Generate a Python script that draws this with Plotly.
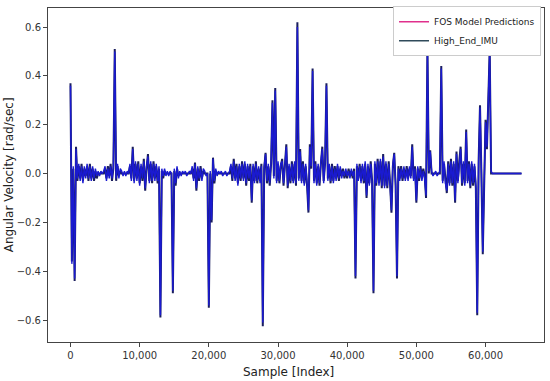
import numpy as np
import plotly.graph_objects as go

# Signal values, one value every 200 samples
STEP = 200
imu_values = [
    0.37, -0.36, 0.02, -0.44, 0.11, -0.03, 0.03, -0.02, 0.04, -0.03,
    0.02, -0.01, 0.03, -0.03, 0.04, -0.02, 0.02, -0.03, 0.01, -0.02,
    0, 0, 0, 0, 0, 0.02, -0.02, 0.03, -0.01, 0.04,
    -0.03, 0.02, 0.51, -0.03, 0.03, -0.01, 0.01, 0, 0, 0,
    0, 0, 0, 0.03, -0.02, 0.11, -0.03, 0.04, -0.02, 0.05,
    -0.04, 0.03, -0.03, 0.06, -0.07, 0.02, 0.08, -0.03, 0.04, -0.04,
    0.05, -0.02, 0.03, -0.04, 0.02, -0.59, 0.01, -0.02, 0.01, 0,
    0, 0, 0, 0, -0.49, 0.01, -0.05, 0.02, -0.01, 0,
    0, 0, 0, 0, 0, 0, 0, 0, 0.02, -0.02,
    0.045, -0.07, 0.02, -0.03, 0.03, -0.02, 0.01, 0, 0, 0,
    -0.55, 0, -0.2, 0.065, -0.04, 0.01, 0, 0, 0, 0,
    0, 0, 0, 0, 0, 0, 0.03, -0.03, 0.06, -0.02,
    0.04, -0.04, 0.03, -0.03, 0.05, -0.02, 0.04, -0.05, 0.03, -0.03,
    0.04, -0.12, 0.03, -0.03, 0.05, -0.04, 0.02, -0.03, 0.04, -0.625,
    0.02, 0.085, -0.04, 0.03, -0.05, 0.04, 0.30, -0.01, 0.35, -0.03,
    0.04, -0.04, 0.03, 0.06, -0.05, 0.04, 0.12, -0.06, 0.03, -0.04,
    0.05, -0.03, 0.04, -0.05, 0.62, -0.02, 0.10, -0.03, 0.05, -0.04,
    0.03, -0.05, -0.16, 0.12, 0.02, 0.43, -0.03, 0.05, -0.04, 0.03,
    -0.05, 0.04, 0.11, -0.03, 0.04, 0.37, -0.02, 0.03, -0.04, 0.04,
    -0.03, 0.03, -0.02, 0.03, -0.03, 0.02, -0.01, 0.02, -0.02, 0.01,
    -0.02, 0.02, -0.01, 0.01, -0.02, 0.02, -0.43, 0.03, -0.02, 0.04,
    -0.03, 0.03, -0.04, 0.04, -0.10, 0.03, -0.04, 0.05, -0.03, -0.49,
    0.04, -0.05, 0.06, -0.04, 0.05, -0.06, 0.08, -0.05, 0.04, -0.06,
    0.05, -0.04, -0.16, 0.03, 0.085, -0.05, -0.43, 0.03, -0.02, 0.03,
    -0.03, 0.02, -0.02, 0.03, -0.02, 0.02, -0.01, 0.12, -0.02, 0.03,
    -0.12, 0.02, -0.03, 0.03, -0.02, 0.02, -0.01, -0.10, 0.51, 0,
    0.095, 0, 0, 0, 0, 0, 0, 0, 0.44, -0.03,
    0.04, -0.03, -0.08, 0.05, -0.04, 0.06, -0.05, 0.04, -0.12, 0.09,
    -0.03, 0.05, 0.11, -0.05, 0.04, -0.04, 0.18, -0.03, 0.05, -0.06,
    0.04, -0.05, 0.03, -0.06, -0.58, 0.05, 0.28, 0.0, -0.33, -0.05,
    0.22, 0.1, 0.33, 0.51, 0, 0, 0, 0, 0, 0,
    0, 0, 0, 0, 0, 0, 0, 0, 0, 0, 0, 0, 0, 0, 0, 0, 0,
]
fos_values = [
    0.36, -0.37, 0.03, -0.43, 0.10, -0.02, 0.04, -0.03, 0.03, -0.04,
    0.03, -0.02, 0.04, -0.02, 0.03, -0.03, 0.03, -0.02, 0.02, -0.01,
    0.01, -0.01, 0.01, 0, 0.01, 0.03, -0.03, 0.02, -0.02, 0.03,
    -0.02, 0.03, 0.50, -0.02, 0.04, -0.02, 0.02, 0.01, -0.01, 0.01,
    -0.01, 0.01, 0, 0.04, -0.03, 0.10, -0.04, 0.05, -0.03, 0.04,
    -0.05, 0.04, -0.02, 0.05, -0.06, 0.03, 0.07, -0.04, 0.05, -0.03,
    0.04, -0.03, 0.04, -0.03, 0.03, -0.58, 0.02, -0.01, 0.02, -0.01,
    0.01, -0.01, 0.01, 0, -0.48, 0.02, -0.04, 0.03, -0.02, 0.01,
    -0.01, 0.01, 0, 0.01, -0.01, 0, 0.01, 0, 0.03, -0.03,
    0.04, -0.06, 0.03, -0.02, 0.02, -0.03, 0.02, 0.01, -0.01, 0,
    -0.54, 0.01, -0.19, 0.06, -0.03, 0.02, -0.01, 0.01, 0, 0.01,
    -0.01, 0, 0.01, -0.01, 0, 0.01, 0.04, -0.02, 0.05, -0.03,
    0.03, -0.05, 0.04, -0.02, 0.04, -0.03, 0.05, -0.04, 0.04, -0.02,
    0.03, -0.11, 0.04, -0.04, 0.04, -0.03, 0.03, -0.04, 0.03, -0.61,
    0.03, 0.08, -0.03, 0.04, -0.04, 0.05, 0.29, -0.02, 0.34, -0.04,
    0.05, -0.03, 0.04, 0.05, -0.04, 0.05, 0.11, -0.05, 0.04, -0.03,
    0.04, -0.04, 0.05, -0.04, 0.60, -0.03, 0.09, -0.04, 0.04, -0.05,
    0.04, -0.04, -0.15, 0.11, 0.03, 0.42, -0.04, 0.04, -0.05, 0.04,
    -0.04, 0.05, 0.10, -0.04, 0.05, 0.36, -0.03, 0.04, -0.03, 0.03,
    -0.04, 0.02, -0.03, 0.04, -0.02, 0.03, -0.02, 0.01, -0.01, 0.02,
    -0.01, 0.01, -0.02, 0.02, -0.01, 0.01, -0.42, 0.04, -0.03, 0.03,
    -0.04, 0.04, -0.03, 0.05, -0.09, 0.04, -0.05, 0.04, -0.04, -0.48,
    0.05, -0.04, 0.05, -0.05, 0.06, -0.05, 0.07, -0.06, 0.05, -0.05,
    0.04, -0.05, -0.15, 0.04, 0.08, -0.04, -0.42, 0.02, -0.03, 0.02,
    -0.02, 0.03, -0.03, 0.02, -0.03, 0.03, -0.02, 0.11, -0.03, 0.02,
    -0.11, 0.03, -0.02, 0.02, -0.03, 0.01, -0.02, -0.09, 0.50, 0.01,
    0.09, 0.01, -0.01, 0, 0.01, -0.01, 0, 0.01, 0.43, -0.04,
    0.05, -0.04, -0.07, 0.04, -0.05, 0.05, -0.04, 0.05, -0.11, 0.08,
    -0.04, 0.04, 0.10, -0.04, 0.05, -0.05, 0.17, -0.04, 0.04, -0.05,
    0.05, -0.04, 0.04, -0.05, -0.57, 0.04, 0.27, 0.01, -0.32, -0.04,
    0.21, 0.11, 0.32, 0.50, 0.01, 0, 0, 0, 0, 0,
    0, 0, 0, 0, 0, 0, 0, 0, 0, 0, 0, 0, 0, 0, 0, 0, 0,
]
x_ticks = [0, 10000, 20000, 30000, 40000, 50000, 60000]
y_ticks = [-0.6, -0.4, -0.2, 0.0, 0.2, 0.4, 0.6]
x_title = "Sample [Index]"
y_title = "Angular Velocity [rad/sec]"

samples_imu = np.arange(len(imu_values)) * STEP
samples_fos = np.arange(len(fos_values)) * STEP

FONT = "DejaVu Sans"
fig = go.Figure()
fig.add_trace(go.Scatter(x=samples_imu, y=imu_values, mode="lines",
                         line=dict(color="#1b1f5e", width=2.0), showlegend=False,
                         name="High_End_IMU"))
fig.add_trace(go.Scatter(x=samples_fos, y=fos_values, mode="lines",
                         line=dict(color="#1a1ad0", width=1.4), showlegend=False,
                         name="FOS Model Predictions"))
# legend entries with the reference legend colours
fig.add_trace(go.Scatter(x=[None], y=[None], mode="lines", name="FOS Model Predictions",
                         line=dict(color="#e0308c", width=1.5)))
fig.add_trace(go.Scatter(x=[None], y=[None], mode="lines", name="High_End_IMU",
                         line=dict(color="#2f4a5a", width=1.5)))

axis_common = dict(showline=True, linecolor="#444", linewidth=1, mirror=True,
                   ticks="outside", ticklen=4, tickcolor="#444", showgrid=False,
                   zeroline=False, automargin=False,
                   tickfont=dict(family=FONT, size=10, color="#333"))
fig.update_xaxes(range=[-3250, 68450], tickvals=x_ticks, tickformat=",d", **axis_common)
fig.update_yaxes(range=[-0.69, 0.678], tickvals=y_ticks, tickformat=".1f", **axis_common)
fig.add_annotation(text=x_title, xref="paper", yref="paper", x=0.485, y=-0.062,
                   xanchor="center", yanchor="top", showarrow=False,
                   font=dict(family=FONT, size=12, color="#222"))
fig.add_annotation(text=y_title, xref="paper", yref="paper", x=-0.078, y=0.5,
                   xanchor="center", yanchor="middle", textangle=-90, showarrow=False,
                   font=dict(family=FONT, size=12, color="#222"))
fig.update_layout(
    width=550, height=381,
    margin=dict(l=48, r=6, t=6, b=39),
    paper_bgcolor="white", plot_bgcolor="white",
    legend=dict(x=0.994, y=1.005, xanchor="right", yanchor="top",
                bgcolor="white", bordercolor="#ccc", borderwidth=1,
                font=dict(family=FONT, size=9, color="#222"), itemwidth=30,
                tracegroupgap=0),
)
fig.write_html("out.html", config={"displayModeBar": False},
               post_script="document.body.style.margin='0';document.body.style.padding='0';")
